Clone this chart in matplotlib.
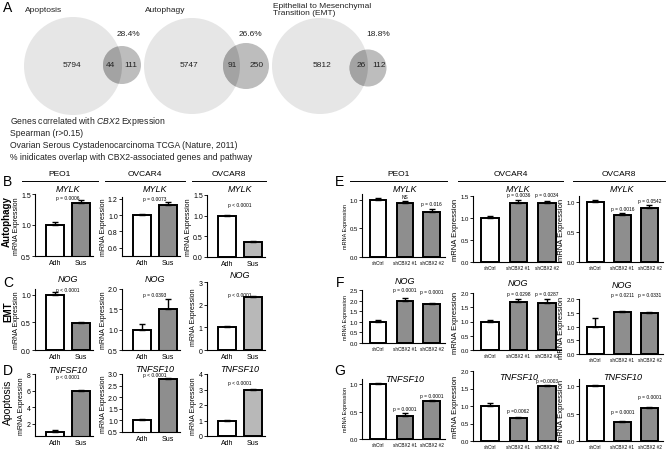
import matplotlib
matplotlib.use("Agg")
import matplotlib.pyplot as plt
from matplotlib.patches import Circle
from matplotlib.lines import Line2D
from matplotlib.transforms import blended_transform_factory
import numpy as np

plt.rcParams["font.family"] = ["Liberation Sans", "DejaVu Sans"]
plt.rcParams["mathtext.fontset"] = "custom"
plt.rcParams["mathtext.it"] = "Liberation Sans:italic"
plt.rcParams["mathtext.rm"] = "Liberation Sans"

# ---- panel A (Venn counts)
venn_names = ["Apoptosis", "Autophagy", "Epithelial to Mesenchymal\nTransition (EMT)"]
venn_only = [5794, 5747, 5812]
venn_shared = [44, 91, 26]
venn_cbx2 = [111, 250, 112]
venn_pct = ["28.4%", "26.6%", "18.8%"]
venn_notes = ["Genes correlated with $\\it{CBX2}$ Expression",
              "Spearman (r>0.15)",
              "Ovarian Serous Cystadenocarcinoma TCGA (Nature, 2011)",
              "% inidicates overlap with CBX2-associated genes and pathway"]

cells = ["PEO1", "OVCAR4", "OVCAR8"]
genes = ["MYLK", "NOG", "TNFSF10"]
row_names = ["Autophagy", "EMT", "Apoptosis"]

# ---- panels B-D (adherent vs suspension)
ads_groups = ["Adh", "Sus"]
mylk_ads = [[1.0, 1.35], [1.0, 1.12], [1.0, 0.36]]
mylk_ads_err = [[0.05, 0.05], [0.01, 0.04], [0.01, 0.02]]
nog_ads = [[1.0, 0.49], [1.0, 1.5], [1.0, 2.35]]
nog_ads_err = [[0.04, 0.02], [0.13, 0.25], [0.04, 0.05]]
tnf_ads = [[1.0, 6.0], [1.0, 2.8], [1.0, 2.95]]
tnf_ads_err = [[0.2, 0.12], [0.05, 0.04], [0.04, 0.06]]
mylk_ads_p = ["p = 0.0006", "p = 0.0073", "p < 0.0001"]
nog_ads_p = ["p < 0.0001", "p = 0.0393", "p < 0.0001"]
tnf_ads_p = ["p < 0.0001", "p < 0.0001", "p < 0.0001"]

# ---- panels E-G (knockdown)
kd_groups = ["shCtrl", "shCBX2 #1", "shCBX2 #2"]
mylk_kd = [[1.0, 0.95, 0.79], [1.0, 1.35, 1.35], [1.0, 0.79, 0.90]]
mylk_kd_err = [[0.03, 0.03, 0.04], [0.04, 0.05, 0.03], [0.03, 0.03, 0.05]]
nog_kd = [[1.0, 2.0, 1.85], [1.0, 1.70, 1.65], [1.0, 1.53, 1.48]]
nog_kd_err = [[0.07, 0.1, 0.03], [0.04, 0.1, 0.15], [0.3, 0.05, 0.06]]
tnf_kd = [[1.0, 0.43, 0.69], [1.0, 0.67, 1.57], [1.0, 0.34, 0.60]]
tnf_kd_err = [[0.02, 0.04, 0.02], [0.08, 0.02, 0.02], [0.02, 0.02, 0.02]]
mylk_kd_p = [["NS", "p = 0.016"], ["p = 0.0036", "p = 0.0034"], ["p = 0.0016", "p = 0.0542"]]
nog_kd_p = [["p = 0.0001", "p = 0.0001"], ["p = 0.0298", "p = 0.0287"], ["p = 0.0211", "p = 0.0331"]]
tnf_kd_p = [["p = 0.0001", "p = 0.0001"], ["p =0.0062", "p =0.0003"], ["p = 0.0001", "p = 0.0001"]]

W, H = 667, 452
fig = plt.figure(figsize=(W / 100, H / 100), dpi=100)


def rect(l, r, b, t):
    return [l / W, 1 - b / H, (r - l) / W, (b - t) / H]


def put(x, y, s, **kw):
    kw.setdefault("ha", "center")
    kw.setdefault("va", "center")
    fig.text(x / W, 1 - y / H, s, **kw)


def put_on(ax, xd, y, s, **kw):
    # x in data units of ax, y in pixels from the top of the figure
    tr = blended_transform_factory(ax.transData, fig.transFigure)
    ax.text(xd, 1 - y / H, s, transform=tr, ha="center", va="center", clip_on=False, **kw)


def hline(x0, x1, y):
    fig.add_artist(Line2D([x0 / W, x1 / W], [1 - y / H] * 2, color="black", lw=0.7))


def bars(l, r, b, t, ylim, ticks, groups, vals, errs, colors, width, xlim,
         tick_fs, lab_fs, ylab_fs):
    ax = fig.add_axes(rect(l, r, b, t))
    x = np.arange(len(vals))
    ax.bar(x, vals, width=width, color=colors, edgecolor="black", linewidth=1.4, zorder=2)
    ax.errorbar(x, vals, yerr=[np.zeros(len(vals)), errs], fmt="none", ecolor="black",
                elinewidth=1.0, capsize=2.2, capthick=1.0, zorder=3)
    ax.set_xlim(*xlim)
    ax.set_ylim(*ylim)
    ax.set_yticks(ticks)
    if all(float(v).is_integer() for v in ticks):
        ax.set_yticklabels(["%d" % v for v in ticks])
    else:
        ax.set_yticklabels(["%.1f" % v for v in ticks])
    ax.set_xticks(x)
    ax.set_xticklabels(groups, fontsize=lab_fs)
    ax.tick_params(axis="y", labelsize=tick_fs, length=2, width=0.6, pad=1)
    ax.tick_params(axis="x", length=0, pad=2)
    for s in ["top", "right"]:
        ax.spines[s].set_visible(False)
    for s in ["left", "bottom"]:
        ax.spines[s].set_linewidth(0.8)
    ax.set_ylabel("mRNA Expression", fontsize=ylab_fs, labelpad=1)
    return ax


# ---------------- panel A
va = fig.add_axes(rect(0, 400, 120, 0))
va.set_xlim(0, 400)
va.set_ylim(120, 0)
va.axis("off")
big_xy = [(73, 67), (192, 67), (320, 67)]
big_r = [49, 48, 48]
small_xy = [(122, 66), (246, 67), (368, 69)]
small_r = [19, 23, 18.5]
only_x = [72, 189, 322]
shared_x = [110, 232, 361]
cbx2_x = [131, 257, 379]
pct_x = [128, 250, 378]
name_xy = [(25, 10), (145, 10), (273, 10)]
for i in range(3):
    big = Circle(big_xy[i], big_r[i], fc="#e6e6e6", ec="none")
    va.add_patch(big)
    va.add_patch(Circle(small_xy[i], small_r[i], fc="#bdbdbd", ec="none"))
    ov = Circle(small_xy[i], small_r[i], fc="#a3a3a3", ec="none")
    va.add_patch(ov)
    ov.set_clip_path(big)
    va.text(only_x[i], 66, str(venn_only[i]), ha="center", va="center", fontsize=6, color="#222222")
    va.text(shared_x[i], 66, str(venn_shared[i]), ha="center", va="center", fontsize=6, color="#222222")
    va.text(cbx2_x[i], 66, str(venn_cbx2[i]), ha="center", va="center", fontsize=6, color="#222222")
    va.text(pct_x[i], 34, venn_pct[i], ha="center", va="center", fontsize=6, color="#222222")
    va.text(name_xy[i][0], name_xy[i][1], venn_names[i], ha="left", va="center",
            fontsize=6, color="#222222", linespacing=1.1)

for k, line in enumerate(venn_notes):
    put(10, 122 + 11.7 * k, line, ha="left", fontsize=6.2, color="#222222")

# ---------------- panel letters
for letter, (lx, ly) in zip("ABCDEFG", [(8, 8), (8, 182), (8, 283), (8, 371),
                                        (340, 182), (340, 283), (340, 371)]):
    put(lx, ly, letter, fontsize=10)

# ---------------- headers
ads_head = [(22, 98), (105, 185), (192, 266)]
kd_head = [(350, 447), (458, 563), (573, 665)]
for (a, b_), (c, d), name in zip(ads_head, kd_head, cells):
    hline(a, b_, 182)
    put((a + b_) / 2, 174, name, fontsize=6)
    hline(c, d, 182)
    put((c + d) / 2, 174, name, fontsize=6)

# ---------------- B-D
ads_cols = [(35, 93), (122, 180), (207, 265)]
ads_layout = [
    [(257, 195, (0.5, 1.5), [0.5, 1.0, 1.5]), (257, 198, (0.5, 1.22), [0.6, 0.8, 1.0, 1.2]),
     (258, 196, (0, 1.5), [0, 0.5, 1.0, 1.5])],
    [(351, 290, (0, 1.1), [0, 0.5, 1.0]), (351, 290, (0.5, 2.0), [0.5, 1.0, 1.5, 2.0]),
     (351, 283, (0, 3), [0, 1, 2, 3])],
    [(437, 375, (0.5, 8), [2, 4, 6, 8]), (433, 375, (0.5, 3.0), [0.5, 1.0, 1.5, 2.0, 2.5, 3.0]),
     (437, 375, (0, 4), [0, 1, 2, 3, 4])],
]
ads_title_y = [[190, 190, 190], [279, 280, 276], [371, 370, 370]]
ads_p_y = [[199, 200, 206], [291, 296, 296], [378, 376, 384]]
ads_vals = [mylk_ads, nog_ads, tnf_ads]
ads_errs = [mylk_ads_err, nog_ads_err, tnf_ads_err]
ads_ps = [mylk_ads_p, nog_ads_p, tnf_ads_p]
sus_color = ["#8e8e8e", "#8e8e8e", "#b8b8b8"]

for g in range(3):
    for c in range(3):
        b, t, yl, tk = ads_layout[g][c]
        l, r = ads_cols[c]
        ax = bars(l, r, b, t, yl, tk, ads_groups, ads_vals[g][c], ads_errs[g][c],
                  ["white", sus_color[c]], 0.7, (-0.75, 1.45), 5, 5, 5)
        put_on(ax, 0.5, ads_title_y[g][c], genes[g], fontsize=6.5, style="italic")
        put_on(ax, 0.5, ads_p_y[g][c], ads_ps[g][c], fontsize=3.5)

put(7, 222, row_names[0], rotation=90, fontsize=7, fontweight="bold")
put(8, 312, row_names[1], rotation=90, fontsize=7, fontweight="bold")
put(8, 402, row_names[2], rotation=90, fontsize=7.5)

# ---------------- E-G
kd_cols = [(362, 445), (473, 561), (579, 663)]
kd_layout = [
    [(258, 195, (0, 1.1), [0, 0.5, 1.0]), (263, 197, (0, 1.5), [0, 0.5, 1.0, 1.5]),
     (263, 197, (0, 1.1), [0, 0.5, 1.0])],
    [(344, 291, (0, 2.5), [0, 0.5, 1.0, 1.5, 2.0, 2.5]), (351, 294, (0, 2.0), [0, 0.5, 1.0, 1.5, 2.0]),
     (355, 300, (0, 2.0), [0, 0.5, 1.0, 1.5, 2.0])],
    [(440, 380, (0, 1.1), [0, 0.5, 1.0]), (442, 372, (0, 2.0), [0, 0.5, 1.0, 1.5, 2.0]),
     (442, 380, (0, 1.13), [0, 0.5, 1.0])],
]
kd_title_y = [[189, 190, 189], [281, 283, 286], [380, 378, 378]]
kd_p_y = [[[198, 205], [196, 196], [210, 201]],
          [[291, 293], [295, 295], [296, 296]],
          [[410, 397], [412, 381], [413, 398]]]
kd_vals = [mylk_kd, nog_kd, tnf_kd]
kd_errs = [mylk_kd_err, nog_kd_err, tnf_kd_err]
kd_ps = [mylk_kd_p, nog_kd_p, tnf_kd_p]
kd_ylab = [4, 5.5, 5.5]

for g in range(3):
    for c in range(3):
        b, t, yl, tk = kd_layout[g][c]
        l, r = kd_cols[c]
        ax = bars(l, r, b, t, yl, tk, kd_groups, kd_vals[g][c], kd_errs[g][c],
                  ["white", "#8e8e8e", "#8e8e8e"], 0.62, (-0.6, 2.5), 4.3, 3.4, kd_ylab[c])
        put_on(ax, 1, kd_title_y[g][c], genes[g], fontsize=6.5, style="italic")
        for k in range(2):
            put_on(ax, k + 1, kd_p_y[g][c][k], kd_ps[g][c][k], fontsize=3.5)

fig.savefig("out.png", dpi=100)
